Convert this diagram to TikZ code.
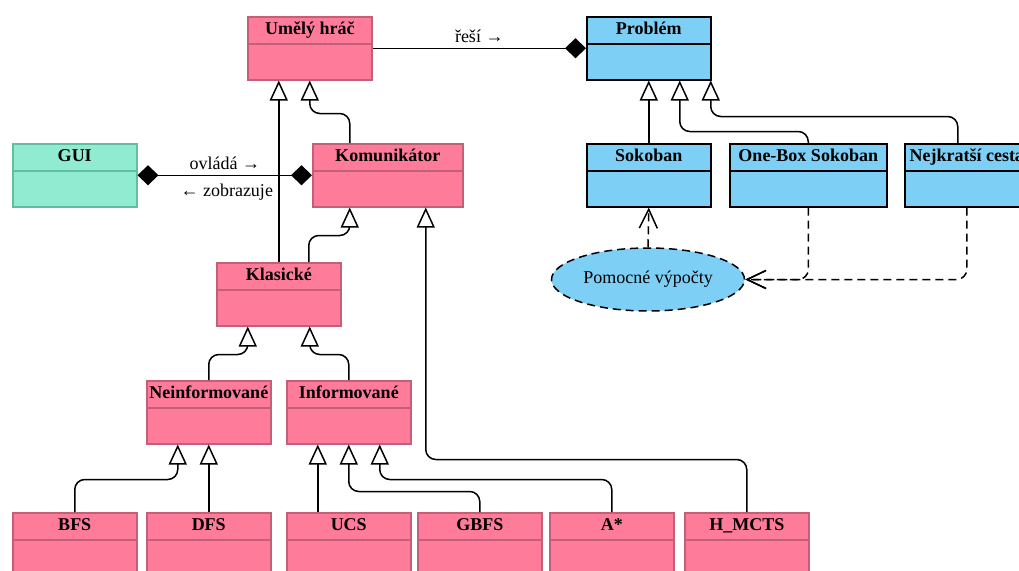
\documentclass[tikz,border=0pt]{standalone}
\usepackage{fontspec}
\setmainfont{Liberation Serif}
\usetikzlibrary{arrows.meta, shapes.geometric}

\definecolor{pinkfill}{HTML}{FF7B9A}
\definecolor{pinkline}{HTML}{C26079}
\definecolor{bluefill}{HTML}{7DCFF5}
\definecolor{greenfill}{HTML}{90EBD0}
\definecolor{greenline}{HTML}{5FBF9F}

\begin{document}
\begin{tikzpicture}[x=1pt, y=-1pt, font=\fontsize{18}{21}\selectfont]

\tikzset{umlclass/.style = {rectangle, draw, line width=1.5pt, anchor=north west,
    minimum width=124pt, inner xsep=0pt, inner ysep=0pt, text height=18pt, text depth=45pt,
    font=\fontsize{18}{21}\selectfont\bfseries,
    path picture={\draw[line width=1.5pt] ([yshift=-27pt]path picture bounding box.north west)
      -- ([yshift=-27pt]path picture bounding box.north east);}}}
\tikzset{algo/.style = {umlclass, fill=pinkfill, draw=pinkline}}
\tikzset{task/.style = {umlclass, fill=bluefill, draw=black}}
\tikzset{gui/.style = {umlclass, fill=greenfill, draw=greenline}}
\tikzset{gen/.style = {line width=1.5pt, rounded corners=10pt, -{Triangle[width=18pt, length=20pt, fill=white]}}}
\tikzset{comp/.tip = {Diamond[width=20pt, length=21pt]}}
\tikzset{assoc/.style = {line width=1.5pt}}
\tikzset{dashline/.style = {dash pattern=on 8pt off 5pt}}
\tikzset{dep/.style = {line width=1.5pt, dashline, rounded corners=10pt, -{Straight Barb[width=18pt, length=19pt]}}}

\useasboundingbox (0,0) rectangle (1019,570);
\clip (0,0) rectangle (1019,570);

%classes
\node[algo] (umely) at (247,16) {Umělý hráč};
\node[task] (problem) at (586,16) {Problém};
\node[gui] (gui) at (12,143) {GUI};
\node[algo, minimum width=150pt] (komunikator) at (312,143) {Komunikátor};
\node[task] (sokoban) at (586,143) {Sokoban};
\node[task, minimum width=157pt] (onebox) at (729,143) {One-Box Sokoban};
\node[task] (nejkratsi) at (904,143) {Nejkratší cesta};
\node[algo] (klasicke) at (216,262) {Klasické};
\node[algo] (neinf) at (146,380) {Neinformované};
\node[algo] (inf) at (286,380) {Informované};
\node[algo] (bfs) at (12,512) {BFS};
\node[algo] (dfs) at (146,512) {DFS};
\node[algo] (ucs) at (286,512) {UCS};
\node[algo] (gbfs) at (417,512) {GBFS};
\node[algo] (astar) at (549,512) {A*};
\node[algo] (hmcts) at (684,512) {H\_MCTS};
\node[ellipse, draw, dashline, line width=1.5pt, fill=bluefill, minimum width=193pt,
  minimum height=63pt, inner sep=0pt] (pomocne) at (648,279.5) {Pomocné výpočty};

%associations
\draw[assoc, comp-] (problem.west) -- (umely.east) node [midway, above=1pt] {řeší →};
\draw[assoc, comp-comp] (gui.east) -- (komunikator.west)
  node [midway, above=1pt] {ovládá →}
  node [midway, below=5pt, xshift=2pt] {← zobrazuje};

%generalizations
\draw[gen] (klasicke.north) -- ([xshift=-31pt]umely.south);
\draw[gen] ([xshift=-38pt]komunikator.north) |- ([yshift=-33pt]umely.south) -- (umely.south);
\draw[gen] ([xshift=30pt]klasicke.north) |- ([xshift=-38pt, yshift=-28pt]komunikator.south) -- ([xshift=-38pt]komunikator.south);
\draw[gen] (hmcts.north) |- ([xshift=38pt, yshift=-252pt]komunikator.south) -- ([xshift=38pt]komunikator.south);
\draw[gen] (neinf.north) |- ([xshift=-31pt, yshift=-28pt]klasicke.south) -- ([xshift=-31pt]klasicke.south);
\draw[gen] (inf.north) |- ([xshift=31pt, yshift=-28pt]klasicke.south) -- ([xshift=31pt]klasicke.south);
\draw[gen] (bfs.north) |- ([xshift=-31pt, yshift=-35pt]neinf.south) -- ([xshift=-31pt]neinf.south);
\draw[gen] (dfs.north) -- (neinf.south);
\draw[gen] ([xshift=-31pt]ucs.north) -- ([xshift=-31pt]inf.south);
\draw[gen] (gbfs.north) |- ([yshift=-47pt]inf.south) -- (inf.south);
\draw[gen] (astar.north) |- ([xshift=31pt, yshift=-35pt]inf.south) -- ([xshift=31pt]inf.south);
\draw[gen] (sokoban.north) -- (problem.south);
\draw[gen] (onebox.north) |- ([xshift=31pt, yshift=-51pt]problem.south) -- ([xshift=31pt]problem.south);
\draw[gen] ([xshift=-9pt]nejkratsi.north) |- ([xshift=62pt, yshift=-36pt]problem.south) -- ([xshift=62pt]problem.south);

%dependencies
\draw[dep] (pomocne.north) -- (sokoban.south);
\draw[dep] (onebox.south) |- (pomocne.east);
\draw[dep] (nejkratsi.south) |- (pomocne.east);

\end{tikzpicture}
\end{document}
